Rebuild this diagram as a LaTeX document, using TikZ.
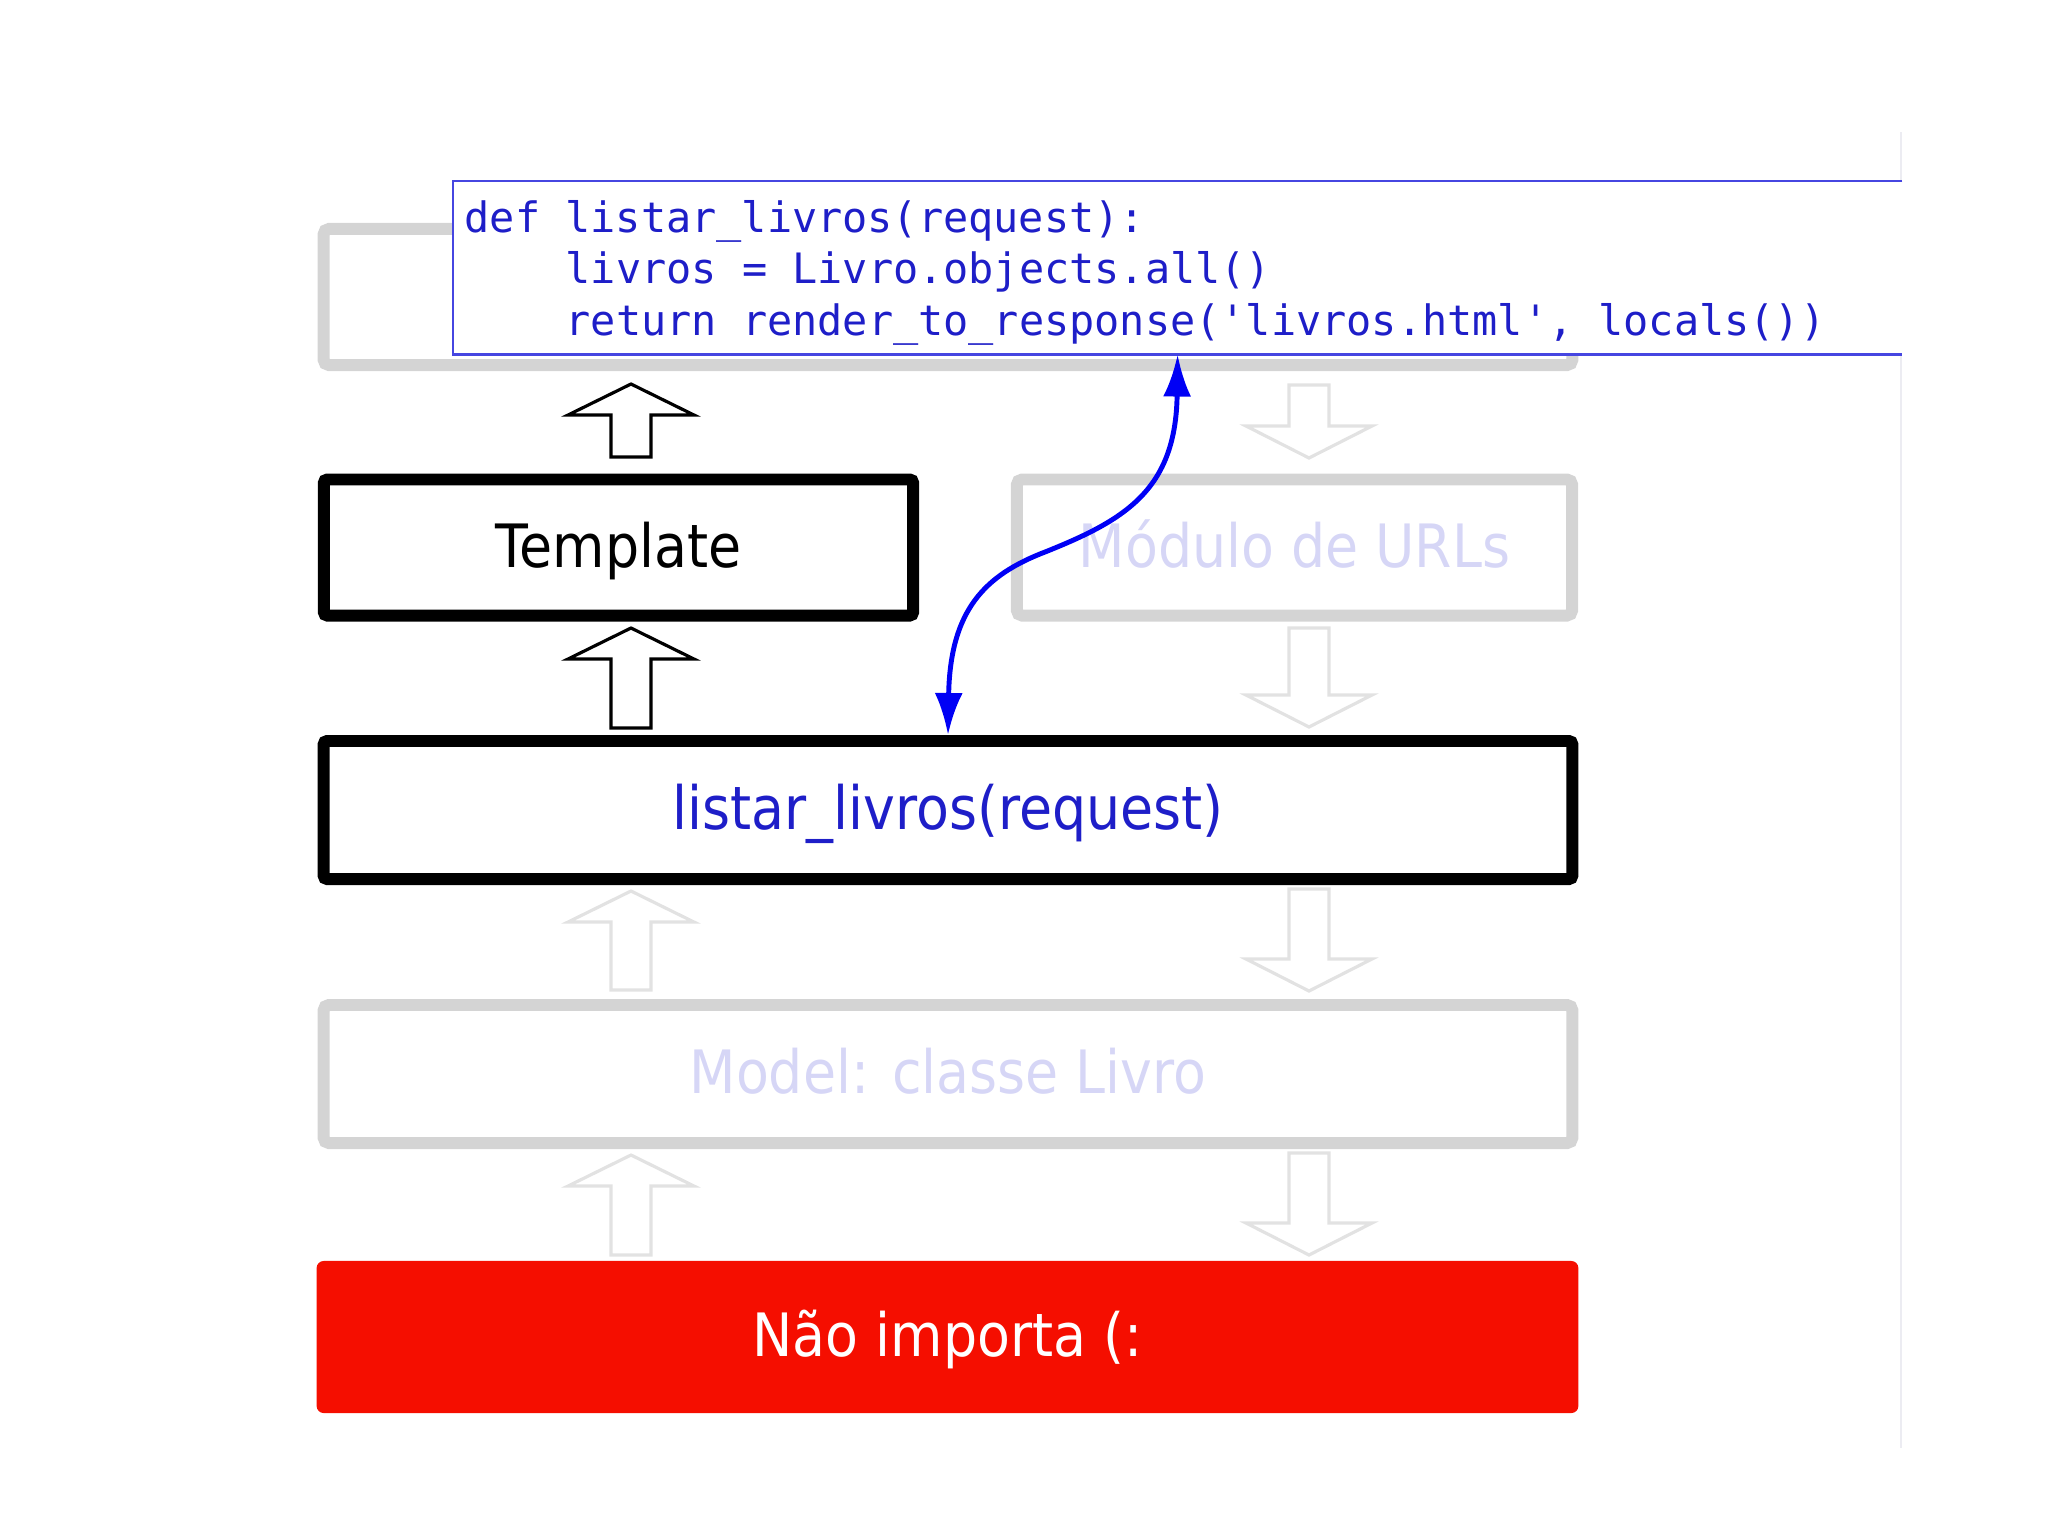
\documentclass[tikz,border=0pt]{standalone}
\usepackage{fontspec}
\setmainfont{DejaVu Sans}[FakeStretch=0.9]
\newfontfamily\codefont{DejaVu Sans Mono}
\usepackage{xcolor}
\usetikzlibrary{arrows.meta}

\definecolor{ghostgray}{RGB}{212,212,212}
\definecolor{ghosttext}{RGB}{214,214,246}
\definecolor{ghostarrow}{RGB}{226,226,226}
\definecolor{codeblue}{RGB}{30,30,200}
\definecolor{framblue}{RGB}{70,70,225}
\definecolor{arcblue}{RGB}{0,0,245}
\definecolor{nopered}{RGB}{245,14,0}
\definecolor{slideedge}{RGB}{236,236,242}

\begin{document}
\begin{tikzpicture}[x=0.01cm, y=-0.01cm,
  label/.style={font=\fontsize{17}{20}\selectfont, text height=0.456cm, text depth=0.06cm},
  layer/.style={label, draw=black, line width=3.4pt, minimum height=1.36cm, rounded corners=1pt},
  ghost/.style={label, draw=ghostgray, text=ghosttext, line width=3.4pt, minimum height=1.36cm, rounded corners=1.5pt},
  blk/.style={draw=black, fill=white, line width=0.9pt},
  ghostblk/.style={draw=ghostarrow, fill=white, line width=0.9pt},
  codeline/.style={anchor=base west, inner sep=0pt, text=codeblue, font=\codefont\fontsize{11.9}{14.6}\selectfont}]

  \useasboundingbox (0,0) rectangle (2048,1535);
  \draw[slideedge, line width=0.6pt] (1901,132) -- (1901,1448);

  % Layers
  \node[ghost, minimum width=12.48cm] (view) at (948,297) {};
  \node[layer, minimum width=5.89cm] (tpl) at (618.5,547.5) {Template};
  \node[ghost, minimum width=5.55cm] (urls) at (1294.5,547.5) {Módulo de URLs};
  \node[layer, minimum width=12.48cm, minimum height=1.38cm, text=codeblue] (listar) at (948,810) {listar\_livros(request)};
  \node[ghost, minimum width=12.48cm, minimum height=1.38cm] (model) at (948,1074) {Model: classe Livro};
  \node[label, fill=nopered, text=white, minimum width=12.61cm, minimum height=1.52cm, rounded corners=2pt] (db) at (947.5,1337) {Não importa (:};

  % Code of the view
  \node[fill=white, minimum width=14.47cm, minimum height=1.72cm, anchor=north west] (code) at (453,181) {};
  \draw[framblue, line width=0.8pt] (code.north east) -- (code.north west) -- (code.south west) -- (code.south east);
  \node[codeline] (l1) at (464,232) {def listar\_livros(request):};
  \node[codeline] (l2) at (565,283) {livros = Livro.objects.all()};
  \node[codeline] (l3) at (565,335) {return render\_to\_response(\textquotesingle livros.html\textquotesingle, locals())};

  % Block arrows
  \foreach \ya/\yb/\sty in {384/457/blk, 628/728/blk, 891/990/ghostblk, 1155/1255/ghostblk}
    \draw[\sty] (631,\ya) -- ++(63,31) -- ++(-43,0) -- (651,\yb) -- (611,\yb) -- (611,\ya+31) -- ++(-43,0) -- cycle;
  \foreach \ya/\yb in {385/458, 628/727, 889/991, 1153/1255}
    \draw[ghostblk] (1289,\ya) -- (1329,\ya) -- (1329,\yb-32) -- (1372,\yb-32) -- (1309,\yb) -- (1246,\yb-32) -- (1289,\yb-32) -- cycle;

  % Call and return
  \draw[arcblue, line width=1.4pt, {Latex[length=0.42cm,width=0.28cm]}-{Latex[length=0.42cm,width=0.28cm]}]
    (listar.north) .. controls (950,610) and (985,575) .. (1045,552)
    .. controls (1125,520) and (1176,490) .. (code.south);

\end{tikzpicture}
\end{document}
